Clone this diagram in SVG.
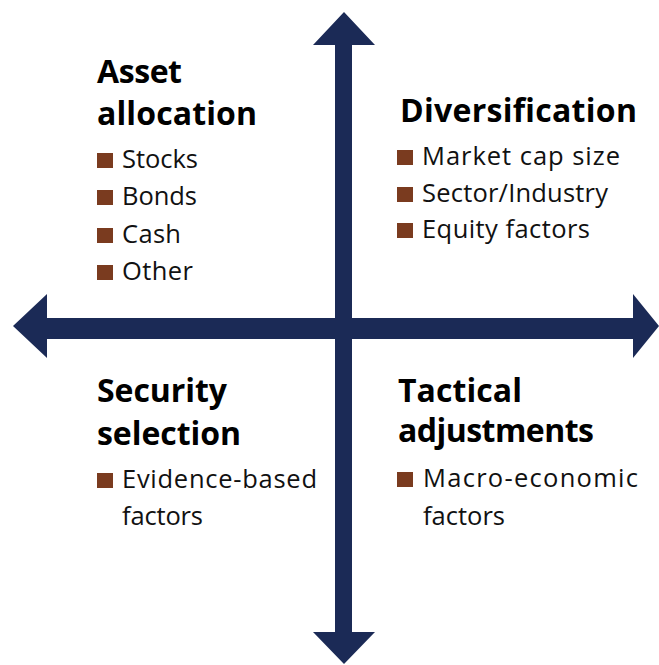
<svg xmlns="http://www.w3.org/2000/svg" width="659" height="665" viewBox="0 0 659 665">
<style>
.ax{fill:#1b2a56}
.t{font-family:"Open Sans","Noto Sans",sans-serif;font-weight:bold;font-size:32px;fill:#000}
.b{font-family:"Open Sans","Noto Sans",sans-serif;font-size:25.5px;fill:#111}
.sq{fill:#7a3b1f}
</style>
<rect width="659" height="665" fill="#fff"/>
<g id="connectors">
<path class="ax" d="M335,45 H313 L344,12 L375,45 H352 V318 H633 V294 L659,326 L633,358 V339 H352 V632 H375 L344,664 L313,632 H335 V339 H47 V358 L13,326 L47,294 V318 H335 Z"/>
</g>
<g id="asset-allocation">
<text class="t" x="97" y="83" textLength="85" lengthAdjust="spacing">Asset</text>
<text class="t" x="97" y="125" textLength="160" lengthAdjust="spacing">allocation</text>
<rect class="sq" x="97" y="153" width="16" height="15"/><text class="b" x="122" y="168" textLength="76" lengthAdjust="spacing">Stocks</text>
<rect class="sq" x="97" y="190" width="16" height="15"/><text class="b" x="122" y="205" textLength="75" lengthAdjust="spacing">Bonds</text>
<rect class="sq" x="97" y="228" width="16" height="15"/><text class="b" x="122" y="243" textLength="59" lengthAdjust="spacing">Cash</text>
<rect class="sq" x="97" y="265" width="16" height="15"/><text class="b" x="122" y="280" textLength="71" lengthAdjust="spacing">Other</text>
</g>
<g id="diversification">
<text class="t" x="400" y="122" textLength="237" lengthAdjust="spacing">Diversification</text>
<rect class="sq" x="397" y="150" width="16" height="15"/><text class="b" x="422" y="165" textLength="198" lengthAdjust="spacing">Market cap size</text>
<rect class="sq" x="397" y="187" width="16" height="15"/><text class="b" x="422" y="202" textLength="186" lengthAdjust="spacing">Sector/Industry</text>
<rect class="sq" x="397" y="223" width="16" height="15"/><text class="b" x="422" y="238" textLength="168" lengthAdjust="spacing">Equity factors</text>
</g>
<g id="security-selection">
<text class="t" x="97" y="402" textLength="130" lengthAdjust="spacing">Security</text>
<text class="t" x="97" y="445" textLength="144" lengthAdjust="spacing">selection</text>
<rect class="sq" x="97" y="473" width="16" height="15"/><text class="b" x="122" y="488" textLength="195" lengthAdjust="spacing">Evidence-based</text>
<text class="b" x="122" y="525" textLength="81" lengthAdjust="spacing">factors</text>
</g>
<g id="tactical-adjustments">
<text class="t" x="398" y="402" textLength="124" lengthAdjust="spacing">Tactical</text>
<text class="t" x="398" y="442" textLength="196" lengthAdjust="spacing">adjustments</text>
<rect class="sq" x="397" y="472" width="16" height="15"/><text class="b" x="423" y="487" textLength="215" lengthAdjust="spacing">Macro-economic</text>
<text class="b" x="423" y="525" textLength="82" lengthAdjust="spacing">factors</text>
</g>
</svg>
